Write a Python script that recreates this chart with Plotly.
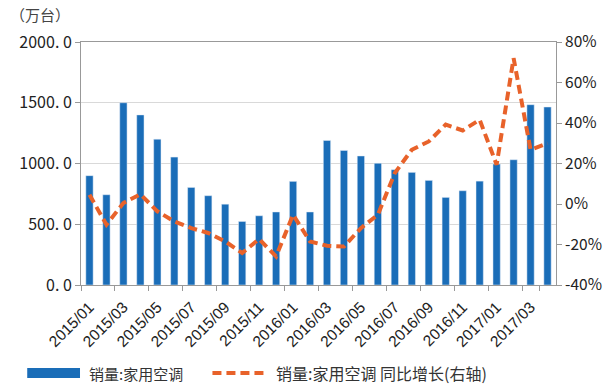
import plotly.graph_objects as go

months = [f"{y}/{m:02d}" for y in (2015, 2016) for m in range(1, 13)] + ["2017/01", "2017/02", "2017/03", "2017/04"]
sales = [900, 743, 1500, 1400, 1200, 1053, 803, 735, 665, 523, 570, 601,
         853, 601, 1190, 1108, 1062, 1002, 949, 927, 861, 721, 776, 855,
         995, 1031, 1484, 1465]
yoy = [4.6, -10.2, 0.5, 4.8, -3.6, -8.6, -11.9, -14.3, -18.5, -24.2, -17.3, -25.9,
       -5.3, -18.5, -20.6, -21.0, -11.9, -5.3, 15.3, 26.8, 30.9, 39.2, 36.3, 41.6,
       19.4, 72.0, 26.8, 30.0]
tick_labels = months[::2][:14]
left_ticks = [0, 500, 1000, 1500, 2000]
left_text = ["0. 0", "500. 0", "1000. 0", "1500. 0", "2000. 0"]
right_ticks = [-40, -20, 0, 20, 40, 60, 80]
right_text = [f"{v}%" for v in right_ticks]
legend_names = ["销量:家用空调", "销量:家用空调 同比增长(右轴)"]
unit_label = "（万台）"

BLUE = "#1A6DB8"
ORANGE = "#E8622A"
FONT = "Noto Sans CJK SC"

W, H = 614, 387
L, R, T, B = 81, 56, 42, 102
pw, ph = W - L - R, H - T - B

def px(x):
    return (x - L) / pw

def py(y):
    return (H - B - y) / ph

fig = go.Figure()
fig.add_trace(go.Bar(x=months, y=sales, marker_color=BLUE, name=legend_names[0], yaxis="y"))
fig.add_trace(go.Scatter(x=months, y=yoy, mode="lines", name=legend_names[1], yaxis="y2",
                         line=dict(color=ORANGE, width=4, dash="9px,5px")))

fig.update_layout(
    width=W, height=H, margin=dict(l=L, r=R, t=T, b=B),
    paper_bgcolor="white", plot_bgcolor="white",
    font=dict(family=FONT, color="#222"),
    showlegend=False, bargap=0.57,
    xaxis=dict(type="category", tickmode="array", tickvals=tick_labels, ticktext=tick_labels,
               tickangle=-45, tickfont=dict(size=15.5, family="Liberation Sans"), ticks="outside", ticklen=5,
               tickson="boundaries", tickcolor="#999", ticklabelstandoff=6,
               showline=True, linecolor="#999", mirror=True, showgrid=False,
               range=[-0.5, len(months) - 0.5]),
    yaxis=dict(range=[0, 2000], tickvals=left_ticks, ticktext=left_text, tickfont=dict(size=16),
               showgrid=True, gridcolor="#D9D9D9", ticks="outside", ticklen=5, tickcolor="#999",
               showline=True, linecolor="#999", zeroline=False),
    yaxis2=dict(range=[-40, 80], overlaying="y", side="right", tickvals=right_ticks,
                ticktext=right_text, tickfont=dict(size=15.5), showgrid=False, ticks="outside",
                ticklen=5, tickcolor="#999", showline=True, linecolor="#999", zeroline=False),
)

# unit label
fig.add_annotation(text=unit_label, xref="paper", yref="paper", x=px(8), y=py(14),
                   xanchor="left", yanchor="middle", showarrow=False, font=dict(size=15, color="#444"))

# manual legend
fig.add_shape(type="rect", xref="paper", yref="paper", x0=px(27), x1=px(80), y0=py(378), y1=py(368),
              fillcolor=BLUE, line=dict(width=0))
fig.add_annotation(text=legend_names[0], xref="paper", yref="paper", x=px(87), y=py(373),
                   xanchor="left", yanchor="middle", showarrow=False, font=dict(size=15, color="#333"))
fig.add_shape(type="line", xref="paper", yref="paper", x0=px(213), x1=px(268), y0=py(373), y1=py(373),
              line=dict(color=ORANGE, width=4, dash="9px,5px"))
fig.add_annotation(text=legend_names[1], xref="paper", yref="paper", x=px(275), y=py(373),
                   xanchor="left", yanchor="middle", showarrow=False, font=dict(size=16, color="#333"))

fig.write_html("out.html")
